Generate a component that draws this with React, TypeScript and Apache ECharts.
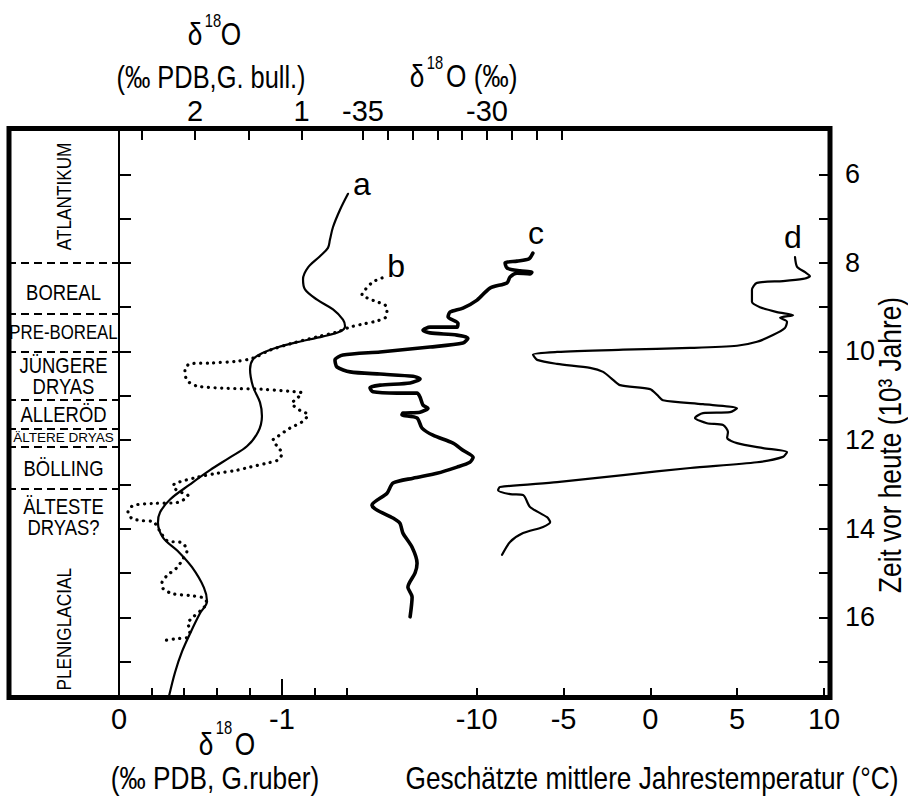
import React, { useEffect, useRef } from "react";
import * as echarts from "echarts";

const FONT = "'Liberation Sans', Arial, sans-serif";
const SQUEEZE = 0.82;

// Curve a: δ18O (‰ PDB, G. ruber) – time in 10^3 years
const aTime = [6.44, 6.80, 7.19, 7.48, 7.66, 7.85, 8.10, 8.37, 8.60, 8.83, 9.05, 9.28, 9.43, 9.55, 9.66, 9.79, 9.91, 10.04, 10.18, 10.40, 10.79, 11.15, 11.46, 11.82, 12.14, 12.39, 12.68, 13.0, 13.34, 13.63, 13.86, 14.20, 14.51, 14.87, 15.33, 15.64, 15.91, 16.32, 16.77, 17.24, 17.78];
const aValue = [-1.405, -1.356, -1.313, -1.294, -1.282, -1.233, -1.160, -1.129, -1.141, -1.215, -1.313, -1.374, -1.387, -1.356, -1.252, -1.092, -0.969, -0.877, -0.822, -0.804, -0.822, -0.865, -0.877, -0.853, -0.785, -0.681, -0.558, -0.436, -0.313, -0.252, -0.239, -0.270, -0.362, -0.448, -0.521, -0.540, -0.497, -0.442, -0.387, -0.344, -0.307];

// Curve b: δ18O (‰ PDB, G. bull.)
const bTime = [8.34, 8.43, 8.61, 8.72, 8.79, 8.88, 8.95, 9.06, 9.22, 9.31, 9.38, 9.45, 9.56, 9.67, 9.81, 9.97, 10.15, 10.22, 10.26, 10.28, 10.42, 10.65, 10.78, 10.83, 10.85, 10.90, 10.94, 11.06, 11.17, 11.33, 11.43, 11.59, 11.73, 11.93, 12.00, 12.16, 12.30, 12.45, 12.52, 12.61, 12.68, 12.75, 12.84, 12.98, 13.05, 13.20, 13.25, 13.41, 13.43, 13.48, 13.63, 13.77, 13.82, 13.84, 14.05, 14.27, 14.32, 14.50, 14.68, 14.88, 15.06, 15.22, 15.35, 15.47, 15.51, 15.56, 15.67, 15.80, 16.00, 16.14, 16.30, 16.46, 16.48, 16.53];
const bValue = [0.247, 0.332, 0.407, 0.435, 0.388, 0.294, 0.219, 0.201, 0.210, 0.294, 0.425, 0.547, 0.669, 0.857, 1.082, 1.297, 1.456, 1.606, 1.859, 2.047, 2.094, 2.075, 1.981, 1.700, 1.391, 1.110, 0.997, 1.044, 1.091, 1.016, 0.941, 0.997, 1.110, 1.231, 1.269, 1.222, 1.185, 1.222, 1.325, 1.485, 1.606, 1.794, 1.981, 2.187, 2.206, 2.112, 2.066, 2.169, 2.394, 2.581, 2.628, 2.590, 2.487, 2.394, 2.33, 2.262, 2.122, 2.075, 2.112, 2.169, 2.262, 2.309, 2.300, 2.206, 2.047, 1.925, 1.888, 1.925, 2.019, 2.066, 2.047, 2.075, 2.169, 2.300];

// Curve c: δ18O (‰), ice core
const cTime = [7.78, 7.91, 7.96, 8.00, 8.12, 8.18, 8.21, 8.25, 8.23, 8.32, 8.45, 8.57, 8.84, 9.02, 9.11, 9.22, 9.36, 9.45, 9.45, 9.52, 9.58, 9.63, 9.70, 9.81, 9.90, 10.01, 10.08, 10.19, 10.35, 10.46, 10.51, 10.56, 10.62, 10.71, 10.76, 10.82, 10.91, 10.94, 10.94, 11.03, 11.21, 11.28, 11.37, 11.39, 11.43, 11.50, 11.73, 11.89, 12.07, 12.23, 12.39, 12.50, 12.61, 12.75, 12.86, 12.97, 13.20, 13.47, 13.58, 13.76, 13.88, 14.10, 14.42, 14.78, 15.00, 15.32, 15.54, 15.99];
const cValue = [-28.15, -28.31, -28.79, -29.27, -29.19, -28.67, -28.19, -28.27, -28.79, -29.07, -29.19, -29.88, -30.40, -30.97, -31.49, -31.57, -31.17, -31.21, -32.30, -32.58, -32.30, -31.21, -30.77, -30.97, -32.30, -34.31, -35.81, -36.13, -36.05, -35.52, -34.31, -32.98, -32.70, -33.10, -34.31, -34.72, -34.60, -33.63, -32.82, -32.70, -32.58, -32.38, -32.70, -33.39, -33.43, -32.82, -32.62, -32.18, -31.37, -30.97, -30.56, -30.69, -31.21, -32.02, -32.98, -33.79, -34.03, -34.64, -34.44, -33.79, -33.51, -33.39, -33.02, -32.82, -32.90, -33.19, -33.02, -33.10];

// Curve d: estimated mean annual temperature (°C)
const dTime = [7.87, 8.09, 8.21, 8.30, 8.36, 8.41, 8.45, 8.61, 8.88, 9.00, 9.11, 9.18, 9.24, 9.33, 9.47, 9.63, 9.78, 9.87, 9.92, 9.96, 10.01, 10.07, 10.19, 10.28, 10.37, 10.46, 10.64, 10.76, 10.85, 10.98, 11.10, 11.19, 11.28, 11.37, 11.39, 11.50, 11.62, 11.66, 11.82, 11.95, 12.07, 12.18, 12.27, 12.38, 12.50, 12.63, 12.79, 12.95, 13.06, 13.13, 13.22, 13.24, 13.51, 13.74, 13.85, 13.96, 14.10, 14.30, 14.59];
const dValue = [8.33, 8.45, 8.91, 9.19, 8.79, 7.64, 6.14, 5.85, 5.85, 6.31, 7.29, 8.22, 7.47, 7.87, 7.75, 7.06, 6.14, 4.99, 2.29, -1.57, -5.37, -6.76, -6.52, -5.37, -3.47, -2.72, -2.15, -1.74, -0.02, 0.39, 0.73, 3.03, 4.99, 4.59, 3.03, 2.57, 3.26, 4.19, 4.47, 4.42, 4.99, 6.49, 7.87, 7.64, 6.14, 2.29, -1.57, -5.37, -8.66, -8.77, -8.08, -7.33, -6.93, -5.95, -5.77, -6.18, -7.33, -8.08, -8.54];

// Axis ticks & labels
const timeTicks = [6, 7, 8, 9, 10, 11, 12, 13, 14, 15, 16, 17];
const timeLabels = [6, 8, 10, 12, 14, 16];
const ruberTicks = [-0.2, -0.4, -0.6, -0.8, -1.2, -1.4];
const ruberMajorTicks = [-1];
const ruberLabels = [0, -1];
const bullTicks = [2.5, 2, 1.5, 1];
const bullLabels = [2, 1];
const iceTicks = [-35, -34, -33, -32, -31, -30, -29, -28, -27];
const iceLabels = [-35, -30];
const tempTicks = [-10, -5, 0, 5, 10];
const tempLabels = [-10, -5, 0, 5, 10];

// Stratigraphic stages
const stageNames = ["ATLANTIKUM", "BOREAL", "PRE-BOREAL", "JÜNGERE\nDRYAS", "ALLERÖD", "ÄLTERE DRYAS", "BÖLLING", "ÄLTESTE\nDRYAS?", "PLENIGLACIAL"];
const stageCenters = [6.5, 8.66, 9.56, 10.53, 11.4, 11.95, 12.62, 13.72, 16.27];
const stageBounds = [8.0, 9.15, 10.0, 11.1, 11.75, 12.15, 13.1];

const zip = (xs: number[], ys: number[]) => xs.map((x, i) => [x, ys[i]]);

const black = "#000";

const tickStyle = { color: black, width: 2 };
const labelStyle = { color: black, fontFamily: FONT, fontSize: 29 };

function xAx(o: any) {
  return {
    type: "value",
    gridIndex: 0,
    splitLine: { show: false },
    axisLine: { show: false, onZero: false },
    ...o,
  };
}

function timeAxis(o: any) {
  return {
    type: "value",
    min: 5,
    max: 17.8,
    inverse: true,
    splitLine: { show: false },
    ...o,
  };
}

function txt(x: number, y: number, text: string, size: number, align = "center", extra: any = {}) {
  return {
    type: "text",
    x,
    y,
    scaleX: SQUEEZE,
    silent: true,
    ...extra,
    style: {
      text,
      fill: black,
      fontSize: size,
      fontFamily: FONT,
      align,
      verticalAlign: "middle",
      textAlign: align,
      textVerticalAlign: "middle",
    },
  };
}

function curveLabel(letter: string, coord: number[], offset: number[]) {
  return {
    silent: true,
    symbol: "circle",
    symbolSize: 1,
    itemStyle: { color: "rgba(0,0,0,0)" },
    label: {
      show: true,
      position: "inside",
      formatter: letter,
      color: black,
      fontFamily: FONT,
      fontSize: 32,
      offset,
    },
    data: [{ coord }],
  };
}

export default function App() {
  const ref = useRef<HTMLDivElement>(null);
  useEffect(() => {
    if (!ref.current) return;
    const chart = echarts.init(ref.current, null, { renderer: "svg" });
    const option: any = {
      animation: false,
      backgroundColor: "#fff",
      grid: [
        { left: 119, right: 78, top: 130, bottom: 102 },
        { left: 8, width: 111, top: 130, bottom: 102 },
      ],
      xAxis: [
        xAx({
          position: "bottom",
          min: -4.362,
          max: 0,
          inverse: true,
          axisTick: { show: true, inside: true, length: 9, customValues: ruberTicks, lineStyle: tickStyle },
          axisLabel: { show: true, customValues: ruberLabels, margin: 7, ...labelStyle, formatter: (v: number) => String(v) },
        }),
        xAx({
          position: "bottom",
          min: -4.362,
          max: 0,
          inverse: true,
          axisTick: { show: true, inside: true, length: 18, customValues: ruberMajorTicks, lineStyle: tickStyle },
          axisLabel: { show: false },
        }),
        xAx({
          position: "bottom",
          min: -30.6,
          max: 10.345,
          axisTick: { show: true, inside: true, length: 9, customValues: tempTicks, lineStyle: tickStyle },
          axisLabel: { show: true, customValues: tempLabels, margin: 7, ...labelStyle, formatter: (v: number) => String(v) },
        }),
        xAx({
          position: "top",
          min: -3.951,
          max: 2.712,
          inverse: true,
          axisTick: { show: true, inside: true, length: 10, customValues: bullTicks, lineStyle: tickStyle },
          axisLabel: { show: true, customValues: bullLabels, margin: 5, ...labelStyle, formatter: (v: number) => String(v) },
        }),
        xAx({
          position: "top",
          min: -44.839,
          max: -16.169,
          axisTick: { show: true, inside: true, length: 10, customValues: iceTicks, lineStyle: tickStyle },
          axisLabel: { show: true, customValues: iceLabels, margin: 5, ...labelStyle, formatter: (v: number) => String(v) },
        }),
        { type: "value", gridIndex: 1, min: 0, max: 1, show: false },
      ],
      yAxis: [
        timeAxis({
          gridIndex: 0,
          position: "left",
          axisLine: { show: true, onZero: false, lineStyle: { color: black, width: 2 } },
          axisTick: { show: true, inside: true, length: 12, customValues: timeTicks, lineStyle: tickStyle },
          axisLabel: { show: false },
        }),
        timeAxis({
          gridIndex: 0,
          position: "right",
          axisLine: { show: false, onZero: false },
          axisTick: { show: true, inside: true, length: 11, customValues: timeTicks, lineStyle: tickStyle },
          axisLabel: { show: true, customValues: timeLabels, margin: 15, ...labelStyle, fontSize: 27 },
        }),
        timeAxis({ gridIndex: 1, show: false }),
      ],
      series: [
        {
          name: "a",
          type: "line",
          xAxisIndex: 0,
          yAxisIndex: 0,
          data: zip(aValue, aTime),
          showSymbol: false,
          smooth: 0.35,
          silent: true,
          lineStyle: { color: black, width: 2.2, cap: "round", join: "round" },
          markPoint: curveLabel("a", [aValue[0], aTime[0]], [14, -10]),
        },
        {
          name: "b",
          type: "line",
          xAxisIndex: 3,
          yAxisIndex: 0,
          data: zip(bValue, bTime),
          showSymbol: false,
          smooth: 0.3,
          silent: true,
          lineStyle: { color: black, width: 3.2, type: [0.1, 6.5], cap: "round", join: "round" },
          markPoint: curveLabel("b", [bValue[0], bTime[0]], [14, -12]),
        },
        {
          name: "c",
          type: "line",
          xAxisIndex: 4,
          yAxisIndex: 0,
          data: zip(cValue, cTime),
          showSymbol: false,
          smooth: 0.25,
          silent: true,
          lineStyle: { color: black, width: 3.6, cap: "round", join: "round" },
          markPoint: curveLabel("c", [cValue[0], cTime[0]], [3, -20]),
        },
        {
          name: "d",
          type: "line",
          xAxisIndex: 2,
          yAxisIndex: 0,
          data: zip(dValue, dTime),
          showSymbol: false,
          smooth: 0.25,
          silent: true,
          lineStyle: { color: black, width: 2.2, cap: "round", join: "round" },
          markPoint: curveLabel("d", [dValue[0], dTime[0]], [-2, -20]),
        },
        {
          name: "stages",
          type: "custom",
          coordinateSystem: "cartesian2d",
          xAxisIndex: 5,
          yAxisIndex: 2,
          silent: true,
          data: stageNames.map((n, i) => [0.5, stageCenters[i], i]),
          renderItem: (params: any, api: any) => {
            const i = api.value(2);
            const name = stageNames[i];
            const p = api.coord([api.value(0), api.value(1)]);
            const vertical = name === "ATLANTIKUM" || name === "PLENIGLACIAL";
            const small = name === "ÄLTERE DRYAS";
            const size = small ? 13.5 : name === "PRE-BOREAL" ? 20.5 : vertical ? 21 : 22.5;
            return {
              type: "text",
              x: p[0],
              y: p[1],
              rotation: vertical ? Math.PI / 2 : 0,
              scaleX: small ? 1 : SQUEEZE,
              style: {
                text: name,
                fill: black,
                fontSize: size,
                fontFamily: FONT,
                lineHeight: 21,
                align: "center",
                verticalAlign: "middle",
                textAlign: "center",
                textVerticalAlign: "middle",
              },
            };
          },
          markLine: {
            silent: true,
            symbol: ["none", "none"],
            label: { show: false },
            lineStyle: { color: black, width: 2, type: [8, 5] },
            data: stageBounds.map((b) => ({ yAxis: b })),
          },
        },
      ],
      graphic: [
        {
          type: "rect",
          silent: true,
          z: 100,
          shape: { x: 9, y: 128.5, width: 821, height: 569 },
          style: { fill: "none", stroke: black, lineWidth: 5 },
        },
        // top-left title δ18O (‰ PDB, G. bull.)
        txt(195, 34, "δ", 32),
        txt(213, 20, "18", 18),
        txt(231, 34, "O", 32),
        txt(211, 77, "(‰ PDB,G. bull.)", 31),
        // top-right title δ18O (‰)
        txt(417, 76, "δ", 32),
        txt(435, 62, "18", 18),
        txt(446, 76, "O (‰)", 32, "left"),
        // bottom-left title
        txt(206, 744, "δ", 32),
        txt(224, 727, "18", 18),
        txt(245, 744, "O", 32),
        txt(215, 778, "(‰ PDB, G.ruber)", 32),
        // bottom-right title
        txt(652, 778, "Geschätzte mittlere Jahrestemperatur (°C)", 32),
        // right title
        txt(890, 445, "Zeit vor heute (10³ Jahre)", 32, "center", { rotation: Math.PI / 2 }),
      ],
    };
    chart.setOption(option);
    return () => chart.dispose();
  }, []);
  return (
    <div
      ref={ref}
      style={{ position: "absolute", left: 0, top: 0, width: 908, height: 799, background: "#fff" }}
    />
  );
}
